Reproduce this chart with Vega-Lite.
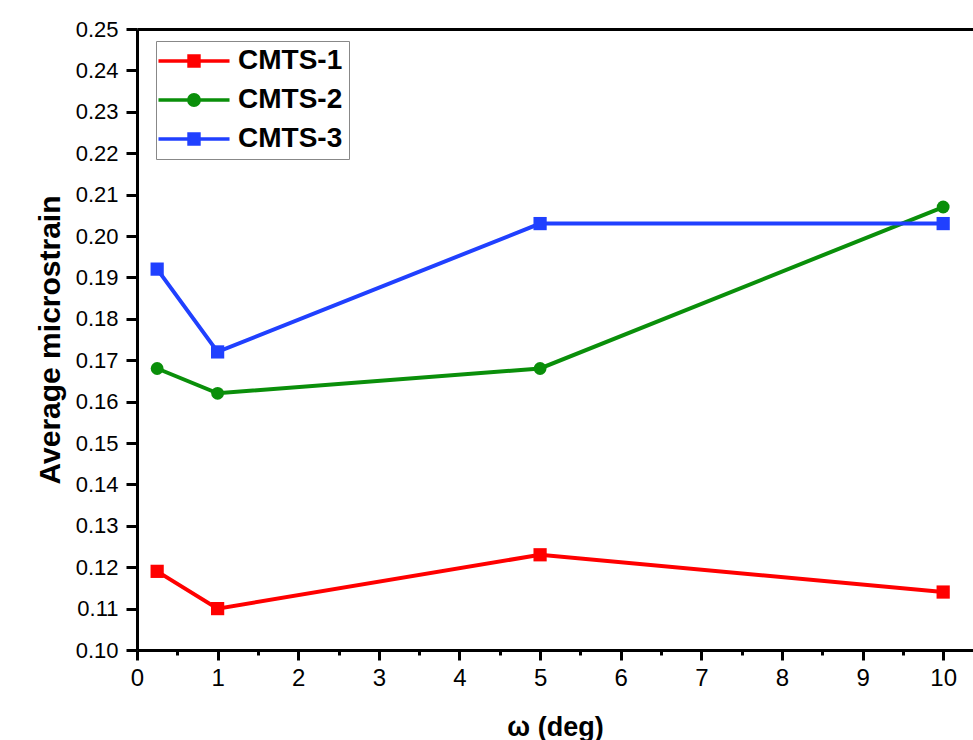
{
  "$schema": "https://vega.github.io/schema/vega-lite/v6.json",
  "width": 836,
  "height": 621,
  "autosize": "none",
  "padding": {"left": 137, "top": 29, "right": 0, "bottom": 90},
  "background": "white",
  "config": {
    "view": {"stroke": null},
    "font": "Liberation Sans",
    "axis": {"grid": false, "labelFont": "Liberation Sans", "titleFont": "Liberation Sans", "labelColor": "black", "titleColor": "black", "domainColor": "black", "tickColor": "black"}
  },
  "data": {
    "values": [
      {"series": "CMTS-1", "omega": 0.25, "strain": 0.119},
      {"series": "CMTS-1", "omega": 1, "strain": 0.110},
      {"series": "CMTS-1", "omega": 5, "strain": 0.123},
      {"series": "CMTS-1", "omega": 10, "strain": 0.114},
      {"series": "CMTS-2", "omega": 0.25, "strain": 0.168},
      {"series": "CMTS-2", "omega": 1, "strain": 0.162},
      {"series": "CMTS-2", "omega": 5, "strain": 0.168},
      {"series": "CMTS-2", "omega": 10, "strain": 0.207},
      {"series": "CMTS-3", "omega": 0.25, "strain": 0.192},
      {"series": "CMTS-3", "omega": 1, "strain": 0.172},
      {"series": "CMTS-3", "omega": 5, "strain": 0.203},
      {"series": "CMTS-3", "omega": 10, "strain": 0.203}
    ]
  },
  "resolve": {"axis": {"x": "independent"}},
  "layer": [
    {
      "mark": {"type": "line", "strokeWidth": 4},
      "encoding": {
        "x": {
          "field": "omega", "type": "quantitative",
          "scale": {"domain": [0, 10.37], "nice": false, "zero": false},
          "axis": {
            "orient": "bottom",
            "title": "ω (deg)",
            "titleFontSize": 27, "titleFontWeight": "bold", "titlePadding": 24,
            "values": [0,0.5,1,1.5,2,2.5,3,3.5,4,4.5,5,5.5,6,6.5,7,7.5,8,8.5,9,9.5,10],
            "labelExpr": "datum.value % 1 === 0 ? format(datum.value, 'd') : ''",
            "labelFontSize": 24, "labelPadding": 6, "labelOverlap": false, "labelFlush": false, "labelBound": false,
            "tickSize": {"condition": {"test": "datum.value % 1 === 0", "value": 10}, "value": 5},
            "tickWidth": 3, "domainWidth": 3
          }
        },
        "y": {
          "field": "strain", "type": "quantitative",
          "scale": {"domain": [0.10, 0.25], "nice": false, "zero": false},
          "axis": {
            "title": "Average microstrain",
            "titleFontSize": 30, "titleFontWeight": "bold", "titlePadding": 10,
            "values": [0.10,0.105,0.11,0.115,0.12,0.125,0.13,0.135,0.14,0.145,0.15,0.155,0.16,0.165,0.17,0.175,0.18,0.185,0.19,0.195,0.20,0.205,0.21,0.215,0.22,0.225,0.23,0.235,0.24,0.245,0.25],
            "labelExpr": "round(datum.value * 200) % 2 === 0 ? format(datum.value, '.2f') : ''",
            "labelFontSize": 22, "labelPadding": 8, "labelOverlap": false, "labelFlush": false, "labelBound": false,
            "tickSize": {"condition": {"test": "round(datum.value * 200) % 2 === 0", "value": 11}, "value": 6},
            "tickWidth": 3, "domainWidth": 3
          }
        },
        "color": {
          "field": "series", "type": "nominal",
          "scale": {"domain": ["CMTS-1", "CMTS-2", "CMTS-3"], "range": ["#ff0000", "#0a8f0a", "#2040ff"]},
          "legend": {
            "title": null, "orient": "none", "legendX": 19, "legendY": 12, "padding": 6,
            "strokeColor": "#888888", "fillColor": "white",
            "labelFontSize": 28, "labelFontWeight": "bold", "labelColor": "black", "labelFont": "Liberation Sans",
            "symbolSize": 256, "symbolStrokeWidth": 3.5, "symbolOpacity": 1,
            "symbolOffset": 18, "labelOffset": 30, "rowPadding": 11
          }
        }
      }
    },
    {
      "transform": [{"filter": "datum.series !== 'CMTS-2'"}],
      "mark": {"type": "point", "shape": "square", "filled": true, "opacity": 1, "size": 175},
      "encoding": {
        "x": {
          "field": "omega", "type": "quantitative",
          "axis": {"orient": "top", "title": null, "labels": false, "ticks": false, "domainWidth": 3, "domainColor": "black"}
        },
        "y": {"field": "strain", "type": "quantitative"},
        "color": {"field": "series", "type": "nominal"}
      }
    },
    {
      "transform": [{"filter": "datum.series === 'CMTS-2'"}],
      "mark": {"type": "point", "shape": "circle", "filled": true, "opacity": 1, "size": 165},
      "encoding": {
        "x": {"field": "omega", "type": "quantitative", "axis": null},
        "y": {"field": "strain", "type": "quantitative"},
        "color": {"field": "series", "type": "nominal"}
      }
    },
    {
      "mark": {"type": "point", "filled": true, "opacity": 0, "size": 10},
      "encoding": {
        "x": {"field": "omega", "type": "quantitative", "axis": null},
        "y": {"field": "strain", "type": "quantitative"},
        "shape": {
          "field": "series", "type": "nominal",
          "scale": {
            "domain": ["CMTS-1", "CMTS-2", "CMTS-3"],
            "range": [
              "M-4.44,0H4.44M-0.62,-0.62H0.62V0.62H-0.62Z",
              "M-4.44,0H4.44M0.65,0A0.65,0.65 0 1,1 -0.65,0A0.65,0.65 0 1,1 0.65,0Z",
              "M-4.44,0H4.44M-0.62,-0.62H0.62V0.62H-0.62Z"
            ]
          },
          "legend": {
            "title": null, "orient": "none", "legendX": 19, "legendY": 12, "padding": 6,
            "strokeColor": "#888888", "fillColor": "white",
            "labelFontSize": 28, "labelFontWeight": "bold", "labelColor": "black", "labelFont": "Liberation Sans",
            "symbolSize": 256, "symbolStrokeWidth": 3.5, "symbolOpacity": 1,
            "symbolOffset": 18, "labelOffset": 30, "rowPadding": 11
          }
        }
      }
    }
  ]
}
